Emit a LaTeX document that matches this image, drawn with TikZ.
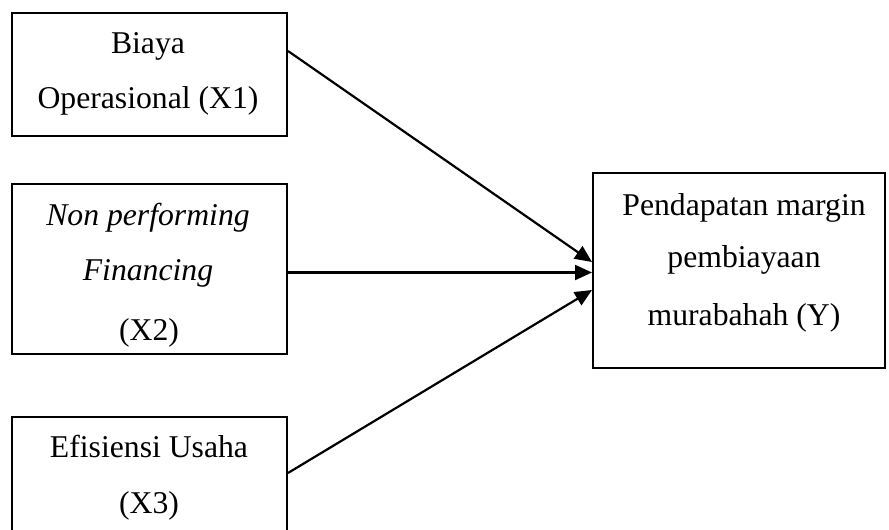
\documentclass[tikz,border=0pt]{standalone}
\usepackage{fontspec}
\setmainfont{Liberation Serif}
\usetikzlibrary{arrows.meta}
\begin{document}
\begin{tikzpicture}[x=1pt,y=-1pt,
  box/.style={draw, line width=2pt, inner sep=0pt},
  lbl/.style={font=\fontsize{31.7}{38}\selectfont, anchor=base, inner sep=0pt},
  arr/.style={line width=2.2pt, -{Triangle[length=17pt,width=15pt]}}]
\useasboundingbox (0,0) rectangle (889,530);
\clip (0,0) rectangle (889,530);
\node[box, minimum width=275pt, minimum height=123pt] (x1) at (149.5,74.5) {};
\node[box, minimum width=275pt, minimum height=170pt] (x2) at (149.5,269) {};
\node[box, minimum width=275pt, minimum height=123pt] (x3) at (149.5,478.5) {};
\node[box, minimum width=292pt, minimum height=195pt] (y) at (739,270.5) {};
\node[lbl] (t11) at (148,53) {Biaya};
\node[lbl] (t12) at (148,108) {Operasional (X1)};
\node[lbl] (t21) at (148,225) {\itshape Non performing};
\node[lbl] (t22) at (148,280) {\itshape Financing};
\node[lbl] (t23) at (149,340) {(X2)};
\node[lbl] (t31) at (149,457) {Efisiensi Usaha};
\node[lbl] (t32) at (149,513) {(X3)};
\node[lbl] (ty1) at (744,215) {Pendapatan margin};
\node[lbl] (ty2) at (744,267) {pembiayaan};
\node[lbl] (ty3) at (744,325) {murabahah (Y)};
\draw[arr] ([yshift=23.5pt]x1.east) -- ([yshift=8.5pt]y.west);
\draw[arr] ([yshift=-3.5pt]x2.east) -- ([yshift=-2pt]y.west);
\draw[arr] ([yshift=5.5pt]x3.east) -- ([yshift=-19.5pt]y.west);
\end{tikzpicture}
\end{document}
